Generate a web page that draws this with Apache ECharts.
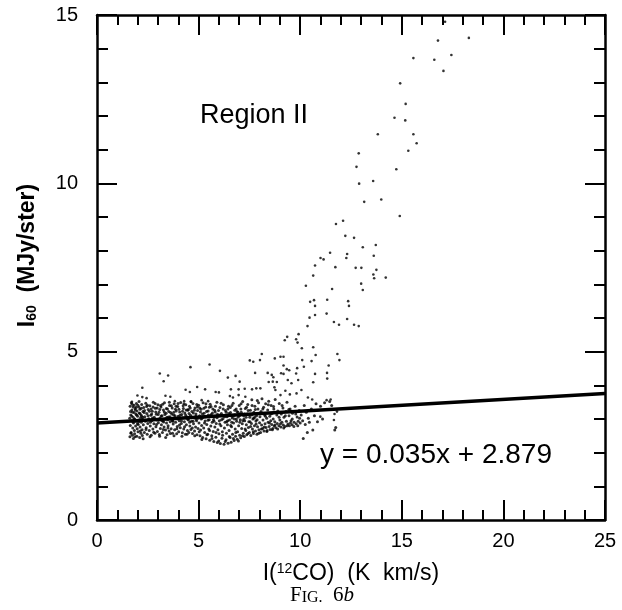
<!DOCTYPE html>
<html>
<head>
<meta charset="utf-8">
<script src="https://cdn.jsdelivr.net/npm/echarts@6/dist/echarts.min.js"></script>
<style>
  html, body { margin: 0; padding: 0; background: #fff; }
  #chart { width: 622px; height: 610px; }
</style>
</head>
<body>
<div id="chart"></div>
<script>
// axis ranges
const xRange = [0, 25];
const yRange = [0, 15];
const tickStep = 5;

// fitted line y = 0.035x + 2.879, end points
const fitX = [0, 25];
const fitY = [2.879, 3.754];

// sparse points rising up to the top right
const upperPts = [
  [17.13, 14.8], [16.78, 14.24], [18.3, 14.32], [15.57, 13.72], [16.6, 13.67],
  [17.44, 13.81], [17.05, 13.34], [14.92, 12.97], [15.19, 12.36], [14.64, 11.95],
  [15.17, 11.87], [13.82, 11.46], [15.57, 11.46], [15.73, 11.19], [15.32, 10.97],
  [14.73, 10.42], [13.59, 10.07], [12.88, 10.89], [12.77, 10.49], [12.9, 9.99],
  [13.15, 9.45], [13.99, 9.52], [14.9, 9.03], [12.11, 8.89], [11.76, 8.79],
  [12.22, 8.44], [12.65, 8.38], [13.08, 8.1], [13.72, 8.17], [11.47, 7.94],
  [12.31, 7.9], [11.0, 7.78], [11.15, 7.74], [12.27, 7.78], [13.62, 7.85],
  [10.73, 7.56], [11.73, 7.51], [12.73, 7.49], [13.01, 7.49], [13.75, 7.43],
  [13.6, 7.29], [14.21, 7.2], [13.64, 7.18], [10.64, 7.26], [10.28, 6.96],
  [11.57, 6.86], [13.0, 7.02], [13.08, 6.83], [10.68, 6.53], [10.49, 6.48],
  [11.33, 6.54], [12.36, 6.5], [12.4, 6.36], [10.73, 6.36], [10.73, 6.09],
  [10.46, 6.01], [11.3, 6.13], [12.31, 5.97], [11.66, 5.88], [11.91, 5.8],
  [12.65, 5.8], [12.88, 5.76], [10.36, 5.76]
];

// scattered points just above the main band
const spreadPts = [
  [9.92, 5.52], [9.36, 5.44], [9.24, 5.34], [9.8, 5.37], [9.87, 5.27],
  [10.08, 5.1], [10.64, 5.13], [10.76, 4.9], [11.83, 4.93], [11.93, 4.75],
  [8.11, 4.93], [9.03, 4.85], [9.18, 4.85], [8.75, 4.8], [7.52, 4.74],
  [7.69, 4.7], [8.02, 4.75], [10.1, 4.75], [10.56, 4.72], [9.18, 4.59],
  [9.34, 4.48], [9.46, 4.45], [9.85, 4.51], [9.8, 4.35], [10.18, 4.55],
  [10.73, 4.34], [11.4, 4.59], [11.32, 4.37], [11.33, 4.2], [7.78, 4.37],
  [8.4, 4.37], [8.6, 4.31], [8.68, 4.24], [9.06, 4.36], [9.18, 4.34],
  [8.45, 4.1], [8.65, 4.11], [8.85, 4.1], [9.39, 4.16], [9.57, 4.06],
  [9.9, 4.16], [10.64, 4.09], [6.44, 4.23], [6.82, 4.28], [7.02, 4.11],
  [6.05, 4.43], [8.73, 3.94], [8.78, 3.86], [8.04, 3.91], [7.84, 3.91],
  [7.63, 3.88], [10.06, 3.86], [6.59, 3.88], [6.97, 3.88], [7.27, 3.9],
  [9.27, 3.84], [9.03, 3.71], [9.49, 3.73], [9.82, 3.76], [10.38, 3.64],
  [10.59, 3.58], [11.3, 3.56], [11.5, 3.58], [11.69, 3.15], [11.81, 3.22],
  [10.99, 3.07], [11.66, 2.97], [4.6, 4.54], [5.54, 4.62], [3.09, 4.35],
  [3.5, 4.29], [3.28, 4.12], [2.23, 3.93], [4.36, 3.87], [4.57, 3.8],
  [4.93, 3.95], [5.32, 3.88], [5.84, 3.8], [6.0, 3.79], [1.99, 3.7],
  [2.23, 3.65], [2.44, 3.62], [3.37, 3.69], [3.61, 3.66], [1.72, 3.51],
  [3.83, 3.53], [4.29, 3.53], [4.62, 3.51], [5.15, 3.56], [5.47, 3.53],
  [6.54, 3.68], [6.69, 3.64], [6.97, 3.71], [7.3, 3.66]
];

// dense band of points near the fitted line
const bandPts = [
  [1.62, 2.47], [1.64, 2.81], [1.66, 3.12], [1.63, 3.38], [1.68, 2.6], [1.7, 2.95], [1.72, 3.27], [1.69, 3.48],
  [1.74, 2.52], [1.76, 2.73], [1.78, 3.05], [1.75, 3.2], [1.8, 2.88], [1.82, 3.41], [1.79, 2.42], [1.84, 2.66],
  [1.86, 3.0], [1.88, 3.31], [1.85, 2.56], [1.9, 2.79], [1.92, 3.14], [1.94, 3.46], [1.91, 2.93], [1.96, 2.49],
  [1.98, 2.71], [2.0, 3.08], [1.97, 3.24], [2.02, 2.62], [2.04, 2.97], [2.06, 3.36], [2.03, 2.84], [2.08, 3.18],
  [2.1, 2.45], [2.12, 2.76], [2.14, 3.03], [2.11, 3.29], [2.16, 2.58], [2.18, 2.9], [2.2, 3.43], [2.17, 3.12],
  [2.22, 2.68], [2.24, 2.99], [2.26, 3.22], [2.23, 2.51], [2.28, 2.83], [2.3, 3.34],
  [2.33, 2.6], [2.35, 3.07], [2.38, 2.93], [2.4, 3.47], [2.42, 2.74], [2.45, 3.16], [2.47, 2.55], [2.5, 2.87],
  [2.52, 3.28], [2.55, 3.01], [2.57, 2.66], [2.6, 3.39], [2.62, 2.79], [2.65, 3.11], [2.67, 2.52], [2.7, 2.95],
  [2.72, 3.23], [2.75, 2.7], [2.77, 3.5], [2.8, 2.86], [2.82, 3.05], [2.85, 2.58], [2.87, 3.32], [2.9, 2.77],
  [2.92, 3.14], [2.95, 2.97], [2.97, 2.63], [3.0, 3.42], [3.02, 2.89], [3.05, 3.2], [3.07, 2.54], [3.1, 3.03],
  [3.12, 2.72], [3.15, 3.36], [3.17, 2.83], [3.2, 3.1], [3.22, 2.6], [3.25, 2.94], [3.27, 3.27], [3.3, 2.76],
  [3.32, 3.48], [3.35, 3.0], [3.37, 2.67], [3.4, 3.17], [3.42, 2.88], [3.45, 2.53], [3.47, 3.3], [3.5, 2.8],
  [3.52, 3.06], [3.55, 2.64], [3.57, 3.4], [3.6, 2.92], [3.62, 3.19], [3.65, 2.71], [3.67, 2.99], [3.7, 3.33],
  [3.72, 2.58], [3.75, 2.85], [3.77, 3.12], [3.8, 3.45], [3.82, 2.68], [3.85, 3.02], [3.87, 2.9], [3.9, 3.24],
  [3.92, 2.56], [3.95, 2.78], [3.97, 3.37], [4.0, 3.08], [4.02, 2.62], [4.05, 2.95], [4.07, 3.21], [4.1, 2.74],
  [4.12, 3.49], [4.15, 2.87], [4.17, 3.13], [4.2, 2.59], [4.22, 3.03], [4.25, 3.31], [4.27, 2.7], [4.3, 2.92],
  [4.32, 3.18], [4.35, 2.55], [4.37, 3.42], [4.4, 2.83], [4.42, 3.07], [4.45, 2.66], [4.47, 3.26], [4.5, 2.97],
  [4.52, 2.6], [4.55, 3.38], [4.57, 2.79], [4.6, 3.11], [4.62, 2.69], [4.65, 2.93], [4.67, 3.22], [4.7, 2.57],
  [4.72, 3.46], [4.75, 2.86], [4.77, 3.04], [4.8, 2.64], [4.82, 3.33], [4.85, 2.76], [4.87, 3.15], [4.9, 2.95],
  [4.92, 2.53], [4.95, 3.25], [4.97, 2.72], [5.0, 3.41],
  [5.02, 2.88], [5.05, 3.1], [5.07, 2.5], [5.1, 2.67], [5.12, 3.29], [5.15, 2.81], [5.17, 3.02], [5.2, 2.45],
  [5.22, 3.48], [5.25, 2.73], [5.27, 3.17], [5.3, 2.6], [5.32, 2.94], [5.35, 3.36], [5.37, 2.41], [5.4, 2.84],
  [5.42, 3.07], [5.45, 2.55], [5.47, 3.24], [5.5, 2.7], [5.52, 2.98], [5.55, 2.37], [5.57, 3.44], [5.6, 2.79],
  [5.62, 3.13], [5.65, 2.5], [5.67, 2.9], [5.7, 3.3], [5.72, 2.63], [5.75, 2.33], [5.77, 3.05], [5.8, 2.76],
  [5.82, 3.21], [5.85, 2.46], [5.87, 2.87], [5.9, 3.5], [5.92, 2.3], [5.95, 2.68], [5.97, 3.09], [6.0, 2.56],
  [6.02, 2.95], [6.05, 3.34], [6.07, 2.27], [6.1, 2.8], [6.12, 3.16], [6.15, 2.43], [6.17, 2.62], [6.2, 3.01],
  [6.22, 3.42], [6.25, 2.25], [6.27, 2.73], [6.3, 2.9], [6.32, 3.25], [6.35, 2.38], [6.37, 2.58], [6.4, 3.07],
  [6.42, 2.83], [6.45, 2.28], [6.47, 3.38], [6.5, 2.66], [6.52, 2.97], [6.55, 2.45], [6.57, 3.19], [6.6, 2.31],
  [6.62, 2.77], [6.65, 3.03], [6.67, 2.55], [6.7, 3.47], [6.72, 2.88], [6.75, 2.36], [6.77, 3.12], [6.8, 2.7],
  [6.82, 2.49], [6.85, 3.3], [6.87, 2.93], [6.9, 2.4], [6.92, 2.62], [6.95, 3.06], [6.97, 2.8], [7.0, 3.4],
  [7.02, 2.52], [7.05, 2.98], [7.07, 2.44], [7.1, 3.2], [7.12, 2.72], [7.15, 2.86], [7.17, 3.52], [7.2, 2.58],
  [7.22, 3.1], [7.25, 2.48], [7.27, 2.95], [7.3, 3.31], [7.32, 2.66], [7.35, 2.83], [7.37, 2.53], [7.4, 3.15],
  [7.42, 3.43], [7.45, 2.75], [7.47, 2.92], [7.5, 2.6], [7.52, 3.05], [7.55, 3.26], [7.57, 2.51], [7.6, 2.87],
  [7.62, 3.57], [7.65, 2.7], [7.67, 3.0], [7.7, 2.57], [7.72, 3.2], [7.75, 2.8], [7.77, 3.38], [7.8, 2.64],
  [7.82, 2.94], [7.85, 3.1], [7.87, 2.55], [7.9, 2.77], [7.92, 3.3], [7.95, 3.48], [7.97, 2.68], [8.0, 2.89],
  [8.02, 3.07], [8.05, 2.6], [8.07, 3.22], [8.1, 2.82], [8.12, 3.6], [8.15, 2.72], [8.17, 2.97], [8.2, 3.35],
  [8.22, 2.64], [8.25, 3.12], [8.27, 2.86], [8.3, 3.45], [8.32, 2.75], [8.35, 3.02], [8.37, 2.66], [8.4, 3.27],
  [8.42, 2.9], [8.45, 3.53], [8.47, 2.78], [8.5, 3.08], [8.52, 2.69], [8.55, 2.95], [8.57, 3.4], [8.6, 2.84],
  [8.62, 3.17], [8.65, 2.72], [8.67, 3.0], [8.7, 3.3], [8.72, 2.79], [8.75, 2.92], [8.77, 3.58], [8.8, 2.74],
  [8.85, 3.12], [8.87, 2.87], [8.9, 3.24], [8.95, 2.8], [8.97, 3.46], [9.0, 2.97], [9.05, 2.76], [9.07, 3.15],
  [9.1, 2.9], [9.15, 3.33], [9.17, 2.82], [9.2, 3.05], [9.25, 2.78], [9.3, 3.22], [9.32, 2.93], [9.35, 3.5],
  [9.4, 2.85], [9.45, 3.1], [9.47, 2.8], [9.5, 3.3], [9.55, 2.95], [9.6, 2.83], [9.62, 3.17], [9.7, 2.9],
  [9.75, 3.38], [9.8, 2.86], [9.85, 3.06], [9.9, 2.93], [9.95, 3.25], [10.0, 2.88],
  [10.05, 3.12], [10.12, 2.95], [10.2, 3.4], [10.25, 2.84], [10.3, 3.2], [10.4, 3.02], [10.45, 2.9], [10.55, 3.3],
  [10.62, 2.67], [10.7, 3.1], [10.78, 3.45], [10.85, 2.92], [11.0, 3.38], [11.1, 3.0], [11.2, 3.48], [11.35, 3.28],
  [11.45, 3.52], [11.55, 3.4], [11.7, 2.67], [11.75, 2.75], [10.15, 2.42], [10.35, 2.6]
];

// second pass over the band, read at other positions
const bandPts2 = [
  [1.61, 3.02], [1.67, 2.58], [1.73, 3.44], [1.77, 2.91], [1.83, 3.19], [1.87, 2.47], [1.93, 3.35], [1.99, 2.86],
  [2.07, 3.52], [2.13, 2.64], [2.19, 3.08], [2.27, 2.41], [2.34, 3.25], [2.41, 2.69], [2.48, 3.41], [2.53, 2.98],
  [2.61, 2.47], [2.66, 3.3], [2.73, 3.03], [2.79, 2.61], [2.86, 3.46], [2.93, 2.84], [3.01, 3.13], [3.08, 2.49],
  [3.13, 3.4], [3.19, 2.95], [3.26, 2.69], [3.31, 3.21], [3.38, 2.45], [3.44, 3.05], [3.49, 2.73], [3.56, 3.5],
  [3.61, 2.57], [3.68, 3.15], [3.74, 2.93], [3.79, 2.5], [3.86, 3.29], [3.93, 2.71], [3.99, 3.46], [4.06, 2.82],
  [4.11, 3.02], [4.18, 2.49], [4.24, 3.39], [4.31, 2.77], [4.36, 3.12], [4.43, 2.55], [4.49, 3.28], [4.56, 2.9],
  [4.63, 3.52], [4.69, 2.73], [4.74, 3.18], [4.81, 2.5], [4.88, 2.99], [4.94, 3.36], [5.03, 2.62], [5.09, 3.21],
  [5.16, 2.39], [5.23, 3.05], [5.29, 2.88], [5.36, 3.45], [5.41, 2.53], [5.48, 3.12], [5.54, 2.66], [5.61, 3.37],
  [5.66, 2.42], [5.73, 2.98], [5.79, 3.26], [5.86, 2.6], [5.93, 3.14], [5.99, 2.35], [6.04, 2.85], [6.11, 3.47],
  [6.18, 2.52], [6.24, 3.1], [6.31, 2.33], [6.38, 2.92], [6.44, 3.3], [6.51, 2.48], [6.58, 2.81], [6.64, 3.4],
  [6.71, 2.42], [6.76, 3.0], [6.83, 2.6], [6.89, 3.22], [6.96, 2.35], [7.03, 2.9], [7.09, 3.45], [7.16, 2.5],
  [7.23, 3.0], [7.29, 2.7], [7.36, 3.35], [7.43, 2.57], [7.49, 3.12], [7.56, 2.78], [7.63, 3.4], [7.69, 2.62],
  [7.76, 3.05], [7.83, 2.85], [7.89, 3.55], [7.96, 2.58], [8.03, 3.18], [8.09, 2.7], [8.16, 3.3], [8.23, 2.76],
  [8.29, 3.08], [8.36, 2.63], [8.43, 3.42], [8.49, 2.88], [8.56, 3.15], [8.63, 2.68], [8.69, 3.37], [8.76, 2.82],
  [8.83, 3.2], [8.89, 2.7], [8.96, 3.05], [9.03, 2.86], [9.11, 3.4], [9.19, 2.73], [9.27, 3.1], [9.36, 2.8],
  [9.44, 3.28], [9.52, 2.88], [9.61, 3.0], [9.69, 2.78], [9.78, 3.15], [9.88, 2.8], [9.97, 3.02]
];

// darkest core of the band
const corePts = [
  [1.65, 3.22], [1.71, 3.09], [1.78, 3.36], [1.83, 2.99], [1.89, 3.27], [1.95, 3.12], [2.01, 3.41], [2.05, 2.92],
  [2.11, 3.16], [2.18, 3.32], [2.25, 3.05], [2.32, 3.19], [2.37, 2.96], [2.44, 3.37], [2.51, 3.1], [2.58, 3.23],
  [2.63, 2.9], [2.69, 3.15], [2.76, 3.36], [2.83, 3.0], [2.89, 3.21], [2.96, 3.33], [3.04, 2.97], [3.09, 3.28],
  [3.16, 3.09], [3.23, 3.44], [3.28, 2.91], [3.34, 3.13], [3.41, 3.31], [3.48, 2.98], [3.53, 3.22], [3.59, 3.07],
  [3.66, 3.39], [3.71, 2.95], [3.78, 3.2], [3.84, 3.1], [3.89, 3.38], [3.96, 3.0], [4.03, 3.29], [4.09, 3.11],
  [4.16, 2.94], [4.21, 3.23], [4.28, 3.45], [4.34, 3.04], [4.39, 3.27], [4.46, 2.99], [4.53, 3.16], [4.59, 3.33],
  [4.66, 3.06], [4.73, 2.93], [4.79, 3.26], [4.86, 3.08], [4.91, 3.43], [4.99, 3.02], [5.06, 3.33], [5.13, 3.0],
  [5.19, 3.15], [5.26, 3.32], [5.33, 3.06], [5.39, 3.22], [5.46, 2.96], [5.53, 3.35], [5.59, 3.1], [5.68, 3.18],
  [5.76, 2.93], [5.83, 3.38], [5.91, 3.04], [5.98, 3.25], [6.06, 3.12], [6.13, 2.98], [6.21, 3.3], [6.28, 3.07],
  [6.36, 3.2], [6.43, 2.95], [6.49, 3.16], [6.56, 3.34], [6.63, 2.9], [6.69, 3.08], [6.78, 3.26], [6.86, 3.0],
  [6.94, 3.2], [7.01, 3.1], [7.08, 3.3], [7.18, 2.95], [7.26, 3.15], [7.34, 3.05], [7.44, 3.25], [7.53, 2.92],
  [7.61, 3.12], [7.71, 3.02], [7.79, 3.28], [7.88, 2.98]
];

const fontSans = "'Liberation Sans', Arial, Helvetica, sans-serif";
const fontSerif = "'Liberation Serif', 'Times New Roman', serif";

function makeX(pos, showLabel) {
  return {
    type: "value",
    position: pos,
    min: xRange[0],
    max: xRange[1],
    interval: tickStep,
    axisLine: { show: true, onZero: false, lineStyle: { color: "#000", width: 2.5 } },
    axisTick: { show: true, inside: true, length: 20, lineStyle: { color: "#000", width: 2 } },
    minorTick: { show: true, splitNumber: 5, length: 10, lineStyle: { color: "#000", width: 2 } },
    axisLabel: { show: showLabel, color: "#000", fontSize: 20, fontFamily: fontSans, margin: 11 },
    splitLine: { show: false },
  };
}

function makeY(pos, showLabel) {
  return {
    type: "value",
    position: pos,
    min: yRange[0],
    max: yRange[1],
    interval: tickStep,
    axisLine: { show: true, onZero: false, lineStyle: { color: "#000", width: 2.5 } },
    axisTick: { show: true, inside: true, length: 20, lineStyle: { color: "#000", width: 2 } },
    minorTick: { show: true, splitNumber: 5, length: 11, lineStyle: { color: "#000", width: 2 } },
    axisLabel: { show: showLabel, color: "#000", fontSize: 20, fontFamily: fontSans, margin: 19 },
    splitLine: { show: false },
  };
}

function dots(data, size) {
  return {
    type: "scatter",
    data: data,
    symbol: "circle",
    symbolSize: size,
    itemStyle: { color: "#000" },
    silent: true,
  };
}

const myChart = echarts.init(document.getElementById("chart"));

const xBottom = makeX("bottom", true);
xBottom.name = "{a|I(}{sup|12}{a|CO)  (K  km/s)}";
xBottom.nameLocation = "middle";
xBottom.nameGap = 42;
xBottom.nameTextStyle = {
  rich: {
    a: { fontSize: 23, fontFamily: fontSans, color: "#000", verticalAlign: "bottom" },
    sup: { fontSize: 14, fontFamily: fontSans, color: "#000", verticalAlign: "top" },
  },
};

const yLeft = makeY("left", true);
yLeft.name = "{a|I}{sub|60}{a|  (MJy/ster)}";
yLeft.nameLocation = "middle";
yLeft.nameRotate = 90;
yLeft.nameGap = 58;
yLeft.nameTextStyle = {
  padding: [0, 0, 0, 24],
  rich: {
    a: { fontSize: 23, fontFamily: fontSans, fontWeight: "bold", color: "#000", verticalAlign: "top" },
    sub: { fontSize: 14, fontFamily: fontSans, fontWeight: "bold", color: "#000", verticalAlign: "bottom" },
  },
};

let option = {
  backgroundColor: "#fff",
  animation: false,
  grid: { left: 97, right: 17, top: 15, bottom: 90, containLabel: false },
  xAxis: [xBottom, makeX("top", false)],
  yAxis: [yLeft, makeY("right", false)],
  series: [
    dots(bandPts, 3),
    dots(bandPts2, 3),
    dots(corePts, 3),
    dots(spreadPts, 2.6),
    dots(upperPts, 2.6),
    {
      type: "line",
      data: fitX.map((x, i) => [x, fitY[i]]),
      symbol: "none",
      lineStyle: { color: "#000", width: 3.5 },
      z: 5,
      silent: true,
    },
  ],
  graphic: [
    {
      type: "text",
      left: 200,
      top: 102,
      style: { text: "Region II", font: "27px " + fontSans, fill: "#000" },
    },
    {
      type: "text",
      left: 320,
      top: 441,
      style: { text: "y = 0.035x + 2.879", font: "28px " + fontSans, fill: "#000" },
    },
    {
      type: "text",
      left: 290,
      top: 585,
      style: {
        text: "{a|F}{sc|IG.}{a|  6}{it|b}",
        rich: {
          a: { fontSize: 21, fontFamily: fontSerif, fill: "#000", verticalAlign: "bottom" },
          sc: { fontSize: 16, fontFamily: fontSerif, fill: "#000", verticalAlign: "bottom" },
          it: { fontSize: 21, fontFamily: fontSerif, fontStyle: "italic", fill: "#000", verticalAlign: "bottom" },
        },
      },
    },
  ],
};

option && myChart.setOption(option);
window.addEventListener("resize", () => {
  myChart.resize();
});
</script>
</body>
</html>
